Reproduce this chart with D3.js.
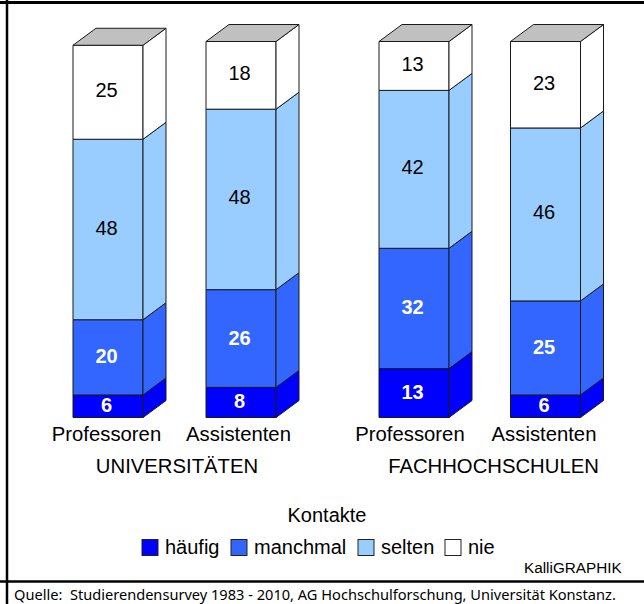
<html>
  <head>
    <meta charset="utf-8">
    <title>Kontakte</title>
    <style>
      body { margin: 0; background: #fff; }
      svg { display: block; }
      text { font-family: "Liberation Sans", Arial, sans-serif; fill: #000; }
      .source { font-family: "Noto Sans", sans-serif; font-size: 14.6px; }
    </style>
    <script src="https://d3js.org/d3.v7.min.js"></script>
  </head>
  <body>
    <svg class="chart"></svg>
    <script>
// values, one entry per bar, left to right
var bars = ["uni-prof", "uni-ass", "fh-prof", "fh-ass"];
var barLabels = ["Professoren", "Assistenten", "Professoren", "Assistenten"];
var groupLabels = ["UNIVERSITÄTEN", "FACHHOCHSCHULEN"];
var categories = ["häufig", "manchmal", "selten", "nie"];
var haeufig = [6, 8, 13, 6];
var manchmal = [20, 26, 32, 25];
var selten = [48, 48, 42, 46];
var nie = [25, 18, 13, 23];
var series = [haeufig, manchmal, selten, nie];

var width = 644, height = 604;
var barWidth = 70, depthX = 23, depthY = 17;

var chart = d3.select(".chart")
    .attr("width", width)
    .attr("height", height);

var x = d3.scaleOrdinal().domain(bars).range([73, 206, 379, 510.5]);
var labelX = d3.scaleOrdinal().domain(bars).range([106.5, 238.5, 410, 544]);
var groupX = d3.scaleOrdinal().domain(groupLabels).range([177, 493.5]);
var y = d3.scaleLinear().domain([0, 100]).range([417.5, 41.5]);
var color = d3.scaleOrdinal().domain(categories).range(["#0000ff", "#3366ff", "#99ccff", "#ffffff"]);
var legendX = d3.scaleOrdinal().domain(categories).range([142, 231, 358, 445]);

// frame: no line on the right side
chart.append("line").attr("x1", 0).attr("x2", width).attr("y1", 2.5).attr("y2", 2.5)
    .attr("stroke", "#000").attr("stroke-width", 3);
chart.append("line").attr("x1", 7).attr("x2", 7).attr("y1", 0).attr("y2", height)
    .attr("stroke", "#000").attr("stroke-width", 2.5);
chart.append("line").attr("x1", 0).attr("x2", width).attr("y1", 581.5).attr("y2", 581.5)
    .attr("stroke", "#000").attr("stroke-width", 2.5);

var stack = d3.stack().keys(d3.range(categories.length)).value(function(d, k) { return series[k][d]; });
var layers = stack(d3.range(bars.length));

var bar = chart.selectAll("g.bar")
    .data(bars)
  .enter().append("g")
    .attr("class", "bar")
    .attr("stroke", "#1a1a1a")
    .attr("stroke-linejoin", "round");

bar.each(function(name, i) {
  var g = d3.select(this), x0 = x(name);

  layers.forEach(function(layer, k) {
    var y0 = y(layer[i][0]), y1 = y(layer[i][1]), c = color(categories[k]);
    g.append("rect")
        .attr("x", x0).attr("y", y1)
        .attr("width", barWidth).attr("height", y0 - y1)
        .attr("fill", c);
    g.append("polygon")
        .attr("points", [[x0 + barWidth, y0], [x0 + barWidth + depthX, y0 - depthY],
                         [x0 + barWidth + depthX, y1 - depthY], [x0 + barWidth, y1]].join(" "))
        .attr("fill", c);
    g.append("text")
        .attr("x", x0 + barWidth / 2 - 1.5)
        .attr("y", (y0 + y1) / 2)
        .attr("dy", k < 2 ? "0.3em" : "0.25em")
        .attr("text-anchor", "middle")
        .attr("font-size", 20)
        .attr("font-weight", k < 2 ? "bold" : "normal")
        .attr("stroke", "none")
        .style("fill", k < 2 ? "#fff" : "#000")
        .text(series[k][i]);
  });

  // grey lid
  var top = y(layers[layers.length - 1][i][1]);
  g.append("polygon")
      .attr("points", [[x0, top], [x0 + barWidth, top], [x0 + barWidth + depthX, top - depthY],
                       [x0 + depthX, top - depthY]].join(" "))
      .attr("fill", "#c0c0c0");
});

chart.selectAll("text.barlabel")
    .data(bars)
  .enter().append("text")
    .attr("class", "barlabel")
    .attr("x", function(d) { return labelX(d); })
    .attr("y", 441)
    .attr("text-anchor", "middle")
    .attr("font-size", 20.3)
    .text(function(d, i) { return barLabels[i]; });

chart.selectAll("text.grouplabel")
    .data(groupLabels)
  .enter().append("text")
    .attr("class", "grouplabel")
    .attr("x", function(d) { return groupX(d); })
    .attr("y", 473)
    .attr("text-anchor", "middle")
    .attr("font-size", 20.3)
    .text(function(d) { return d; });

chart.append("text")
    .attr("x", 327).attr("y", 522)
    .attr("text-anchor", "middle")
    .attr("font-size", 20)
    .text("Kontakte");

var legend = chart.selectAll("g.legend")
    .data(categories)
  .enter().append("g")
    .attr("class", "legend")
    .attr("transform", function(d) { return "translate(" + legendX(d) + ",539.5)"; });

legend.append("rect")
    .attr("width", 16).attr("height", 16)
    .attr("fill", function(d) { return color(d); })
    .attr("stroke", "#222");

legend.append("text")
    .attr("x", 23).attr("y", 14)
    .attr("font-size", 20)
    .text(function(d) { return d; });

chart.append("text")
    .attr("x", 524).attr("y", 573)
    .attr("font-size", 15.3)
    .text("KalliGRAPHIK");

// the reference crops this line at the window edge; kept just inside it here
chart.append("text")
    .attr("class", "source")
    .attr("x", 14).attr("y", 599.5)
    .attr("xml:space", "preserve")
    .text("Quelle:  Studierendensurvey 1983 - 2010, AG Hochschulforschung, Universität Konstanz.");
    </script>
  </body>
</html>
